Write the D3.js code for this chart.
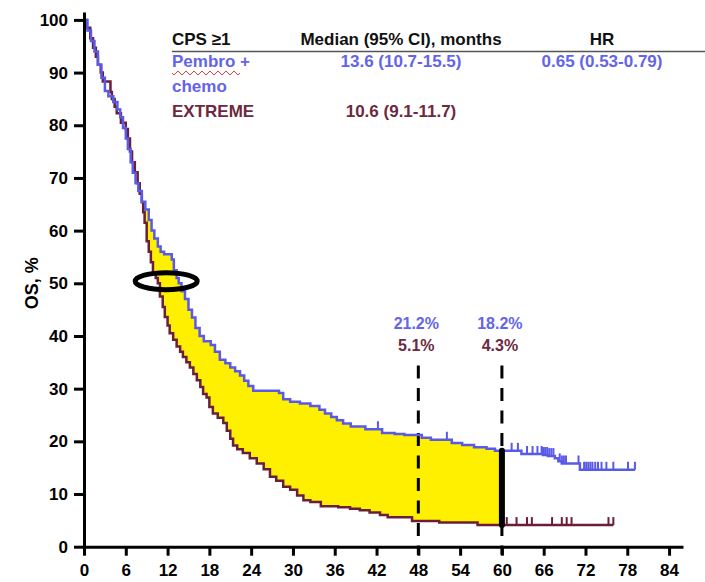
<!DOCTYPE html>
<html>
<head>
<meta charset="utf-8">
<script src="https://cdn.jsdelivr.net/npm/d3@7"></script>
<style>
  body { margin: 0; background: #fff; }
  svg text { font-family: "Liberation Sans", Arial, sans-serif; }
</style>
</head>
<body>
<svg id="chart" width="705" height="582"></svg>
<script>
// KM step points [month, OS %]
var pembroSteps = [[0,100],[0.5,98],[1.0,96],[1.5,94],[2.0,91.5],[2.5,89],[3.0,86.5],[3.5,85.5],[4.2,84.4],[4.8,83],[5.2,81.5],[5.6,79.5],[6.0,77.5],[6.3,75.5],[6.7,73],[7.0,71],[7.4,69],[7.8,67.5],[8.3,65.5],[8.8,64],[9.3,62],[9.7,60],[10.1,58.5],[10.6,57],[11.0,56],[11.5,55.5],[12.6,54.5],[12.9,52.5],[13.3,51],[13.6,50],[14.0,48.5],[14.5,47],[15.0,45],[15.5,43.5],[16.0,41.5],[16.6,40],[17.2,39],[18.2,38.3],[18.8,37],[19.5,35.5],[20.3,34.8],[21.0,34],[21.7,33.3],[22.4,32.5],[23.0,31.5],[23.6,30.5],[24.3,29.6],[28.0,29.2],[28.6,28],[29.6,27.5],[31.0,27.2],[32.5,26.7],[33.8,26],[34.6,25.3],[35.5,24.6],[36.3,24],[37.2,23.4],[38.3,22.8],[40.4,22.3],[42.8,21.6],[44.6,21.4],[46.0,21.2],[48.5,20.7],[49.8,20.3],[52.8,19.7],[54.3,19.3],[56.0,18.9],[57.8,18.6],[59.0,18.2],[62.8,17.6],[65.9,17.4],[66.6,17.2],[67.6,16.8],[68.1,16.2],[68.6,15.8],[71.2,14.6]];
var pembroEnd = 79.1;
var pembroCensor = [42.2,52.1,61.4,62.3,63.6,64.4,65.1,65.7,65.9,66.2,66.5,66.8,67.1,67.4,68.3,68.6,68.9,69.2,71.0,71.8,72.1,72.4,72.7,73.0,73.4,73.8,74.3,75.0,76.0,78.1,79.1];

var extremeSteps = [[0,100],[0.4,98.5],[0.9,96.5],[1.3,94.7],[1.7,93],[2.0,91.5],[2.4,90],[2.7,88.3],[3.8,86.3],[4.0,85],[4.4,83.5],[4.7,82.3],[5.3,80.5],[6.0,79.3],[6.3,77.5],[6.6,75],[6.9,73],[7.3,71.1],[7.7,69],[8.0,67],[8.3,65.4],[8.5,63.5],[8.7,61.5],[9.0,58],[9.3,56],[9.6,54],[9.9,52],[10.3,51],[10.6,50],[10.9,47.5],[11.3,45.5],[11.6,43.6],[12.0,42],[12.3,40.5],[12.8,39.3],[13.3,38],[13.8,37],[14.2,36],[14.7,35],[15.2,34],[15.7,32.8],[16.2,31.6],[16.7,30.3],[17.1,29],[17.6,28.3],[18.0,26.5],[18.5,25.3],[19.2,24.5],[20.0,23.5],[20.5,22],[21.0,20.5],[21.4,19.2],[22.0,18.5],[22.8,17.8],[23.8,16.8],[24.8,15.8],[25.8,14.7],[26.7,13.3],[27.6,12.5],[28.6,11.4],[29.6,10.8],[30.6,9.7],[31.5,8.8],[32.5,8.5],[34.0,7.7],[36.5,7.5],[38.2,7.2],[39.6,6.9],[41.0,6.5],[42.5,6.0],[43.6,5.6],[47.1,4.9],[51.0,4.6],[56.5,4.1]];
var extremeEnd = 76.0;
var extremeCensor = [60.7,62.1,63.6,64.3,67.2,68.6,69.3,70.0,75.3,76.0];

var xTicks = d3.range(0, 85, 6);
var yTicks = d3.range(0, 101, 10);

var landmarks = [48, 60];
var pembroLabels = ["21.2%", "18.2%"];
var extremeLabels = ["5.1%", "4.3%"];
var shadeFrom = 8, shadeTo = 60;
var medianMark = [11.8, 50.4]; // ellipse around the medians

var tableHeader = ["CPS \u22651", "Median (95% CI), months", "HR"];
var tableRows = [
    { name: ["Pembro +", "chemo"], median: "13.6 (10.7-15.5)", hr: "0.65 (0.53-0.79)", color: "#6464e8" },
    { name: ["EXTREME"], median: "10.6 (9.1-11.7)", hr: "", color: "#6c2940" }
];

var blue = "#5a5ae8", maroon = "#6a1f36", yellow = "#fff000";

var svg = d3.select("#chart");

var x = d3.scaleLinear().domain([0, 86]).range([84, 683]);
var y = d3.scaleLinear().domain([0, 101.5]).range([546.7, 12]);

// step lookup
function survAt(steps, t) {
    var v = steps[0][1];
    for (var i = 0; i < steps.length; i++) {
        if (steps[i][0] <= t) v = steps[i][1];
        else break;
    }
    return v;
}

// yellow band between the curves
var gridT = [];
pembroSteps.concat(extremeSteps).forEach(function (p) {
    if (p[0] > shadeFrom && p[0] < shadeTo) gridT.push(p[0]);
});
gridT.push(shadeFrom, shadeTo);
gridT = Array.from(new Set(gridT)).sort(function (a, b) { return a - b; });

var area = d3.area().curve(d3.curveStepAfter)
    .x(function (t) { return x(t); })
    .y0(function (t) { return y(survAt(extremeSteps, t)); })
    .y1(function (t) { return y(Math.max(survAt(pembroSteps, t), survAt(extremeSteps, t))); });

svg.append("path").datum(gridT).attr("d", area).attr("fill", yellow);

// dashed landmark lines
svg.selectAll(".landmark").data(landmarks).enter().append("line")
    .attr("x1", function (d) { return x(d); }).attr("x2", function (d) { return x(d); })
    .attr("y1", y(34.4)).attr("y2", y(0) + 8)
    .attr("stroke", "#000").attr("stroke-width", 3)
    .attr("stroke-dasharray", "13,9.5");

// KM lines
var line = d3.line().curve(d3.curveStepAfter)
    .x(function (d) { return x(d[0]); })
    .y(function (d) { return y(d[1]); });

function drawCurve(steps, end, censor, color) {
    var pts = steps.concat([[end, steps[steps.length - 1][1]]]);
    svg.append("path").datum(pts).attr("d", line)
        .attr("fill", "none").attr("stroke", color).attr("stroke-width", 2.5);
    svg.selectAll(null).data(censor).enter().append("line")
        .attr("x1", function (d) { return x(d); }).attr("x2", function (d) { return x(d); })
        .attr("y1", function (d) { return y(survAt(steps, d)); })
        .attr("y2", function (d) { return y(survAt(steps, d)) - 8; })
        .attr("stroke", color).attr("stroke-width", 2);
}
drawCurve(extremeSteps, extremeEnd, extremeCensor, maroon);
drawCurve(pembroSteps, pembroEnd, pembroCensor, blue);

// thick bar at 60 months
svg.append("line")
    .attr("x1", x(60)).attr("x2", x(60))
    .attr("y1", y(survAt(pembroSteps, 60))).attr("y2", y(survAt(extremeSteps, 60)))
    .attr("stroke", "#000").attr("stroke-width", 6).attr("stroke-linecap", "round");

// ellipse around the medians
svg.append("ellipse")
    .attr("cx", x(medianMark[0])).attr("cy", y(medianMark[1]))
    .attr("rx", 31).attr("ry", 8.5)
    .attr("fill", "none").attr("stroke", "#000").attr("stroke-width", 5);

// landmark percentages
svg.selectAll(".lblP").data(landmarks).enter().append("text")
    .attr("x", function (d) { return x(d) - 2; }).attr("y", 328.5)
    .attr("text-anchor", "middle").attr("font-size", 16).attr("font-weight", "bold")
    .attr("fill", "#6464e8")
    .text(function (d, i) { return pembroLabels[i]; });
svg.selectAll(".lblE").data(landmarks).enter().append("text")
    .attr("x", function (d) { return x(d) - 2; }).attr("y", 351)
    .attr("text-anchor", "middle").attr("font-size", 16).attr("font-weight", "bold")
    .attr("fill", "#6c2940")
    .text(function (d, i) { return extremeLabels[i]; });

// axes
var xAxis = d3.axisBottom(x).tickValues(xTicks).tickSize(9).tickPadding(8).tickSizeOuter(0);
var yAxis = d3.axisLeft(y).tickValues(yTicks).tickSize(10).tickPadding(6).tickSizeOuter(0);

var gx = svg.append("g").attr("transform", "translate(0," + y(0) + ")").call(xAxis);
var gy = svg.append("g").attr("transform", "translate(" + x(0) + ",0)").call(yAxis);

[gx, gy].forEach(function (g) {
    g.select(".domain").attr("stroke", "#000").attr("stroke-width", 3);
    g.selectAll(".tick line").attr("stroke", "#000").attr("stroke-width", 3);
    g.selectAll(".tick text").attr("fill", "#000")
        .style("font-size", "17px").style("font-weight", "bold");
});

svg.append("text")
    .attr("transform", "translate(38," + y(50) + ") rotate(-90)")
    .attr("text-anchor", "middle").style("font-size", "18px").style("font-weight", "bold")
    .attr("fill", "#000")
    .text("OS, %");

// table legend
var colX = [172, 401, 602];
svg.append("text").attr("x", colX[0]).attr("y", 45).attr("font-size", 17).attr("font-weight", "bold").attr("fill", "#111").text(tableHeader[0]);
svg.append("text").attr("x", colX[1]).attr("y", 45).attr("text-anchor", "middle").attr("font-size", 17)
    .attr("font-weight", "bold").attr("fill", "#111").text(tableHeader[1]);
svg.append("text").attr("x", colX[2]).attr("y", 45).attr("text-anchor", "middle").attr("font-size", 17).attr("font-weight", "bold").attr("fill", "#111").text(tableHeader[2]);
svg.append("line").attr("x1", colX[0]).attr("x2", 705).attr("y1", 51.5).attr("y2", 51.5)
    .attr("stroke", "#555").attr("stroke-width", 1.6);

var rowY = [67, 117];
tableRows.forEach(function (r, i) {
    r.name.forEach(function (nm, j) {
        svg.append("text").attr("x", colX[0]).attr("y", rowY[i] + j * 25)
            .attr("font-size", 17).attr("font-weight", "bold").attr("fill", r.color).text(nm);
    });
    svg.append("text").attr("x", colX[1]).attr("y", rowY[i]).attr("text-anchor", "middle")
        .attr("font-size", 17).attr("font-weight", "bold").attr("fill", r.color).text(r.median);
    if (r.hr) {
        svg.append("text").attr("x", colX[2]).attr("y", rowY[i]).attr("text-anchor", "middle")
            .attr("font-size", 17).attr("font-weight", "bold").attr("fill", r.color).text(r.hr);
    }
});

// spell-check squiggle under "Pembro"
var wave = "M172,73";
for (var k = 0; k < 17; k++) {
    wave += " l2," + (k % 2 === 0 ? 2 : -2) + " l2," + (k % 2 === 0 ? -2 : 2);
}
svg.append("path").attr("d", wave).attr("fill", "none").attr("stroke", "#e23b3b").attr("stroke-width", 1);
</script>
</body>
</html>
